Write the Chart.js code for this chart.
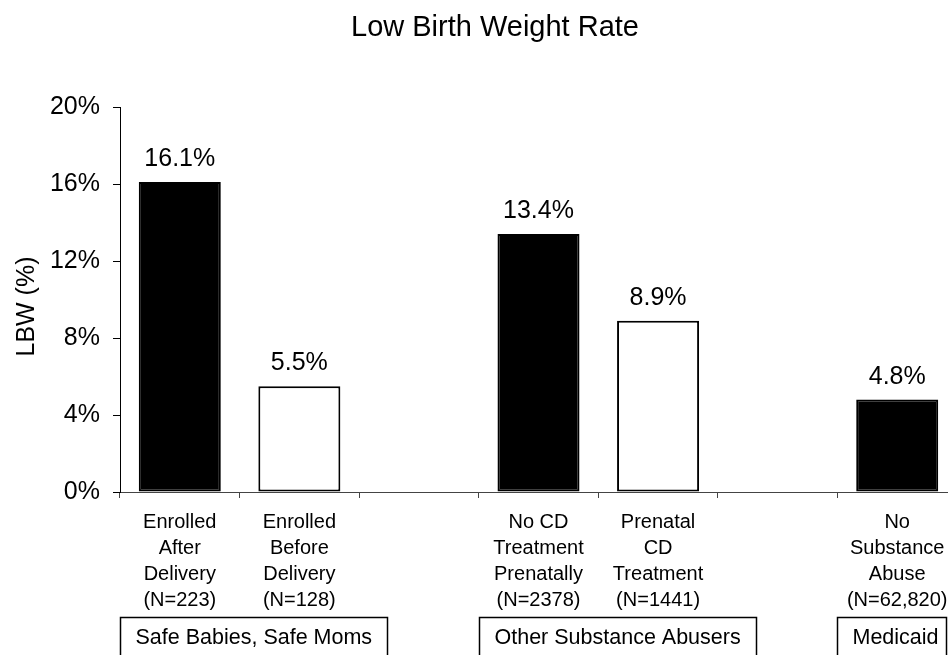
<!DOCTYPE html>
<html>
<head>
<meta charset="utf-8">
<title>Low Birth Weight Rate</title>
<script src="https://cdn.jsdelivr.net/npm/chart.js@4/dist/chart.umd.min.js"></script>
<style>
  html, body { margin: 0; padding: 0; background: #fff; overflow: hidden; }
  canvas { display: block; }
</style>
</head>
<body>
<canvas id="lbw" width="960" height="655"></canvas>
<script>
// Categories (multi-line labels); empty strings are spacer slots between groups
const categories = [
  ['Enrolled', 'After', 'Delivery', '(N=223)'],
  ['Enrolled', 'Before', 'Delivery', '(N=128)'],
  '',
  ['No CD', 'Treatment', 'Prenatally', '(N=2378)'],
  ['Prenatal', 'CD', 'Treatment', '(N=1441)'],
  '',
  ['No', 'Substance', 'Abuse', '(N=62,820)']
];

// Low birth weight rate, percent
const lbwRates = [16.1, 5.5, null, 13.4, 8.9, null, 4.8];

// Bar fills: solid for the first bar of a group, outlined for the second
const barFills = ['#000000', '#ffffff', null, '#000000', '#ffffff', null, '#000000'];

// Y-axis tick values
const yTicks = [0, 4, 8, 12, 16, 20];

// Group captions and the category span each covers
const groupLabels = ['Safe Babies, Safe Moms', 'Other Substance Abusers', 'Medicaid'];
const groupFirst = [0, 3, 6];
const groupLast = [1, 4, 6];

const FONT = '"Liberation Sans", Arial, Helvetica, sans-serif';
const VIEW_WIDTH = 948;

// Chart title and rotated y-axis caption
const captions = {
  id: 'captions',
  afterDraw(chart) {
    const ctx = chart.ctx;
    const area = chart.chartArea;
    ctx.save();
    ctx.fillStyle = '#000';
    ctx.textAlign = 'center';
    ctx.textBaseline = 'alphabetic';
    ctx.font = '29px ' + FONT;
    ctx.fillText('Low Birth Weight Rate', 495, 36);

    ctx.font = '25px ' + FONT;
    ctx.translate(34, (area.top + area.bottom) / 2 + 7);
    ctx.rotate(-Math.PI / 2);
    ctx.fillText('LBW (%)', 0, 0);
    ctx.restore();
  }
};

// Percentage labels above each bar
const valueLabels = {
  id: 'valueLabels',
  afterDatasetsDraw(chart) {
    const ctx = chart.ctx;
    const meta = chart.getDatasetMeta(0);
    ctx.save();
    ctx.font = '25px ' + FONT;
    ctx.fillStyle = '#000';
    ctx.textAlign = 'center';
    ctx.textBaseline = 'alphabetic';
    lbwRates.forEach((v, i) => {
      if (v === null) return;
      const bar = meta.data[i];
      ctx.fillText(v.toFixed(1) + '%', bar.x, bar.y - 16);
    });
    ctx.restore();
  }
};

// Boxed group captions under the category labels, starting at each group's left edge
const groupBoxes = {
  id: 'groupBoxes',
  afterDraw(chart) {
    const ctx = chart.ctx;
    const x = chart.scales.x;
    const slot = (x.right - x.left) / categories.length;
    const pad = 15;
    ctx.save();
    ctx.font = '21.5px ' + FONT;
    ctx.fillStyle = '#000';
    ctx.strokeStyle = '#000';
    ctx.lineWidth = 1.5;
    ctx.textAlign = 'center';
    ctx.textBaseline = 'middle';
    const top = Math.round(x.bottom + 4) + 0.5;
    groupLabels.forEach((label, g) => {
      const left = Math.round(x.getPixelForValue(groupFirst[g]) - slot / 2) + 0.5;
      const tw = ctx.measureText(label).width;
      const right = Math.min(Math.round(left + tw + 2 * pad), VIEW_WIDTH - 2) + 0.5;
      ctx.strokeRect(left, top, right - left, 80);
      ctx.fillText(label, left + pad + tw / 2, top + 20.5);
    });
    ctx.restore();
  }
};

new Chart(document.getElementById('lbw'), {
  type: 'bar',
  data: {
    labels: categories,
    datasets: [{
      data: lbwRates,
      backgroundColor: barFills,
      borderColor: '#000',
      borderWidth: 2,
      borderSkipped: false,
      barPercentage: 0.686,
      categoryPercentage: 1
    }]
  },
  options: {
    responsive: false,
    animation: false,
    layout: { padding: { top: 107, left: 0, right: 3, bottom: 42 } },
    plugins: {
      legend: { display: false },
      tooltip: { enabled: false },
      title: { display: false }
    },
    scales: {
      x: {
        grid: { offset: true, drawOnChartArea: false, drawTicks: true, tickLength: 6, color: '#444', lineWidth: 1 },
        border: { display: true, color: '#444', width: 1 },
        ticks: {
          autoSkip: false, maxRotation: 0, minRotation: 0, padding: 11, color: '#000',
          font: { family: FONT, size: 20, lineHeight: 1.3 }
        },
        afterFit(scale) { scale.height = 121; }
      },
      y: {
        min: 0,
        max: 20,
        afterBuildTicks(scale) { scale.ticks = yTicks.map(v => ({ value: v })); },
        grid: { drawOnChartArea: false, drawTicks: true, tickLength: 7, color: '#000', lineWidth: 1 },
        border: { display: true, color: '#000', width: 1 },
        ticks: {
          padding: 13, color: '#000',
          font: { family: FONT, size: 25 },
          callback: v => v + '%'
        },
        afterFit(scale) { scale.width = 120; }
      }
    }
  },
  plugins: [captions, valueLabels, groupBoxes]
});
</script>
</body>
</html>
